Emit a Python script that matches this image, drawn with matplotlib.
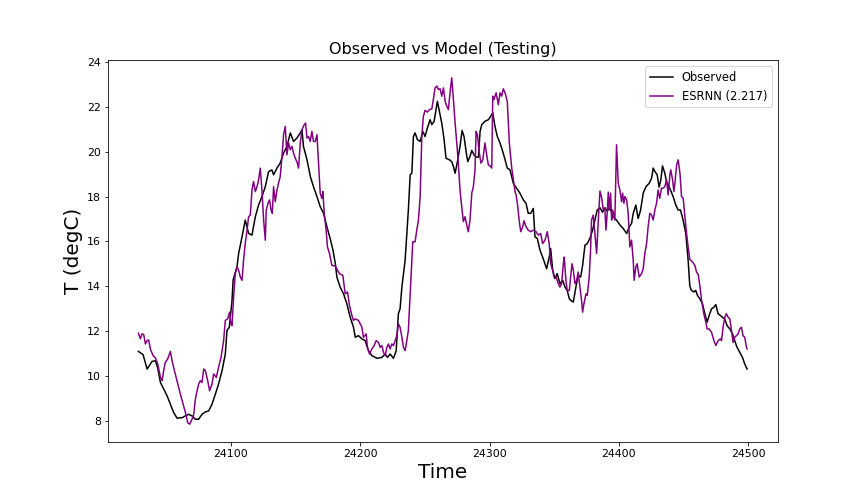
import matplotlib
matplotlib.use("Agg")
import matplotlib.pyplot as plt

# Observed temperature (test period)
obs_time = [
    24028.8, 24032.4, 24035.5, 24036.7, 24039.3, 24041.9, 24043.7, 24045.8, 24048.3, 24050.9,
    24053.5, 24056.0, 24058.6, 24062.5, 24065.0, 24067.6, 24070.2, 24072.8, 24075.3, 24077.9,
    24080.5, 24083.0, 24085.6, 24088.2, 24090.7, 24093.4, 24095.9, 24097.2, 24099.0, 24101.1,
    24101.9, 24104.9, 24106.2, 24108.8, 24111.3, 24113.9, 24116.5, 24119.1, 24121.6, 24124.2,
    24126.8, 24129.3, 24131.9, 24133.2, 24135.8, 24138.3, 24140.9, 24143.5, 24146.1, 24148.6,
    24151.2, 24153.8, 24155.1, 24156.3, 24159.0, 24161.6, 24164.0, 24166.7, 24169.2, 24171.8,
    24174.4, 24177.0, 24179.1, 24180.9, 24182.1, 24184.6, 24187.2, 24189.8, 24192.4, 24194.9,
    24196.3, 24198.8, 24201.4, 24203.9, 24206.5, 24209.1, 24213.0, 24216.8, 24219.4, 24221.2,
    24223.2, 24225.8, 24227.9, 24229.6, 24230.9, 24232.3, 24234.8, 24237.3, 24238.7, 24240.0,
    24241.2, 24242.5, 24244.3, 24246.4, 24248.5, 24250.2, 24252.0, 24254.1, 24255.4, 24257.2,
    24259.7, 24261.3, 24263.1, 24264.9, 24266.4, 24269.0, 24270.8, 24272.1, 24273.4, 24275.2,
    24277.2, 24278.8, 24280.3, 24281.9, 24283.2, 24284.9, 24286.3, 24288.0, 24289.6, 24291.4,
    24292.7, 24294.0, 24296.5, 24299.1, 24300.9, 24302.5, 24304.2, 24306.0, 24308.1, 24310.2,
    24312.0, 24313.7, 24315.8, 24318.4, 24321.0, 24323.5, 24326.1, 24328.2, 24329.9, 24331.8,
    24333.8, 24335.1, 24336.9, 24339.0, 24341.0, 24342.8, 24344.1, 24346.1, 24347.2, 24348.8,
    24350.5, 24352.3, 24354.4, 24356.5, 24358.3, 24360.0, 24361.6, 24362.9, 24364.7, 24366.7,
    24368.5, 24370.4, 24371.9, 24373.7, 24375.5, 24377.5, 24379.6, 24381.4, 24383.2, 24385.3,
    24387.3, 24389.1, 24390.9, 24393.0, 24395.5, 24398.1, 24400.7, 24403.2, 24405.9, 24407.9,
    24409.7, 24411.0, 24413.0, 24414.8, 24416.7, 24418.7, 24420.8, 24423.3, 24425.2, 24426.4,
    24427.7, 24429.5, 24431.0, 24432.3, 24433.6, 24435.4, 24436.7, 24438.0, 24439.8, 24441.8,
    24443.9, 24445.7, 24447.5, 24449.5, 24451.6, 24453.4, 24454.7, 24456.0, 24457.8, 24459.3,
    24460.6, 24462.4, 24464.5, 24466.3, 24468.1, 24469.6, 24471.5, 24473.3, 24474.8, 24476.5,
    24478.4, 24479.9, 24481.7, 24483.5, 24485.6, 24487.7, 24489.4, 24491.2, 24493.3, 24495.4,
    24497.1, 24498.9,
]
obs_temp = [
    11.09, 10.94, 10.30, 10.41, 10.64, 10.67, 10.35, 9.70, 9.41, 9.11,
    8.73, 8.36, 8.11, 8.13, 8.21, 8.28, 8.21, 8.06, 8.06, 8.28,
    8.39, 8.43, 8.73, 9.18, 9.63, 10.23, 10.97, 12.02, 12.17, 13.36,
    14.27, 14.86, 15.46, 16.20, 16.95, 16.35, 16.28, 17.10, 17.62, 18.00,
    18.44, 19.11, 19.19, 18.97, 19.27, 19.49, 19.94, 20.23, 20.84, 20.46,
    20.61, 20.84, 20.98, 20.23, 19.64, 18.89, 18.44, 18.00, 17.55, 17.25,
    16.65, 16.10, 15.60, 15.00, 14.40, 13.96, 13.66, 13.21, 12.61, 12.17,
    11.72, 11.79, 11.65, 11.57, 11.12, 10.90, 10.78, 10.82, 10.97, 10.82,
    10.97, 10.78, 11.12, 12.77, 12.99, 13.96, 15.16, 17.40, 18.97, 19.04,
    20.68, 20.84, 20.54, 20.46, 20.91, 20.68, 21.06, 21.43, 21.21, 21.36,
    22.25, 21.80, 21.28, 20.54, 19.71, 19.64, 19.56, 19.34, 19.04, 19.56,
    20.24, 20.95, 20.68, 20.01, 19.56, 19.79, 20.06, 19.86, 19.76, 19.76,
    20.91, 21.21, 21.36, 21.43, 21.58, 21.73, 21.13, 20.68, 20.39, 20.01,
    19.64, 19.27, 19.19, 18.59, 18.37, 18.15, 17.85, 17.70, 17.25, 17.25,
    17.47, 16.20, 16.13, 15.60, 15.30, 15.00, 14.78, 15.30, 15.68, 14.71,
    14.34, 14.56, 14.11, 14.26, 13.96, 13.81, 13.44, 13.36, 13.29, 13.96,
    14.48, 14.41, 14.93, 15.83, 15.90, 16.13, 16.50, 16.95, 17.40, 17.50,
    17.30, 17.50, 17.35, 17.50, 17.10, 16.95, 16.73, 16.58, 16.35, 16.65,
    16.80, 17.25, 17.62, 17.02, 17.40, 18.15, 18.44, 18.59, 18.82, 19.27,
    19.12, 18.97, 18.42, 18.74, 19.37, 19.04, 18.67, 18.52, 18.29, 18.00,
    17.62, 17.40, 17.40, 16.95, 16.35, 15.16, 14.00, 13.81, 13.74, 13.81,
    13.59, 13.44, 13.21, 12.77, 12.39, 12.69, 12.99, 13.06, 13.18, 12.77,
    12.69, 12.61, 12.54, 12.24, 12.09, 11.87, 11.57, 11.27, 11.05, 10.82,
    10.53, 10.30,
]

# ESRNN model prediction, RMSE in legend
esrnn_time = [
    24028.8, 24030.3, 24031.6, 24032.9, 24034.2, 24035.5, 24036.7, 24038.0, 24040.1, 24041.9,
    24043.7, 24045.8, 24047.1, 24048.3, 24049.6, 24051.4, 24053.5, 24054.8, 24056.6, 24058.6,
    24061.2, 24063.7, 24065.8, 24066.8, 24068.4, 24070.2, 24071.5, 24072.8, 24074.1, 24075.3,
    24076.6, 24077.9, 24079.2, 24080.5, 24082.3, 24083.8, 24085.6, 24086.9, 24089.0, 24090.7,
    24092.6, 24094.6, 24095.9, 24097.7, 24099.2, 24100.3, 24101.1, 24102.3, 24103.6, 24104.9,
    24106.2, 24107.5, 24108.8, 24110.0, 24111.3, 24112.7, 24113.9, 24115.2, 24116.5, 24117.7,
    24119.1, 24120.4, 24121.6, 24122.9, 24124.2, 24125.5, 24126.8, 24127.5, 24128.9, 24130.1,
    24131.2, 24132.2, 24133.2, 24134.5, 24135.8, 24137.0, 24138.3, 24139.7, 24140.9, 24142.2,
    24143.5, 24144.8, 24146.1, 24147.4, 24148.6, 24149.9, 24151.2, 24152.5, 24153.8, 24155.1,
    24156.9, 24157.9, 24159.0, 24160.2, 24161.5, 24162.8, 24164.0, 24165.4, 24166.7, 24167.9,
    24169.2, 24170.5, 24171.3, 24172.3, 24173.8, 24174.8, 24176.4, 24178.2, 24180.8, 24182.6,
    24184.1, 24186.7, 24188.5, 24190.3, 24191.8, 24193.7, 24194.9, 24196.2, 24198.8, 24200.1,
    24201.4, 24202.6, 24204.7, 24205.7, 24207.3, 24209.1, 24210.9, 24212.4, 24214.2, 24215.5,
    24216.8, 24218.1, 24219.4, 24220.7, 24221.9, 24223.2, 24224.5, 24225.8, 24227.1, 24228.4,
    24229.6, 24230.9, 24232.3, 24233.5, 24234.8, 24236.1, 24237.3, 24238.7, 24240.7, 24242.5,
    24243.8, 24245.1, 24246.4, 24247.7, 24248.9, 24250.2, 24252.0, 24253.6, 24255.4, 24256.6,
    24257.9, 24259.3, 24260.5, 24261.8, 24263.1, 24264.4, 24265.7, 24267.0, 24268.2, 24269.5,
    24270.8, 24272.1, 24273.4, 24274.7, 24275.9, 24277.2, 24278.5, 24279.8, 24281.1, 24282.4,
    24283.6, 24284.9, 24286.3, 24287.5, 24288.8, 24289.6, 24290.6, 24292.1, 24293.4, 24294.8,
    24296.5, 24297.8, 24299.1, 24300.4, 24301.7, 24302.5, 24303.5, 24305.1, 24306.8, 24308.1,
    24309.4, 24310.6, 24312.0, 24313.7, 24315.3, 24317.1, 24318.4, 24319.7, 24320.5, 24321.5,
    24323.0, 24324.1, 24325.6, 24326.6, 24328.2, 24329.9, 24331.8, 24333.8, 24335.9, 24337.7,
    24339.5, 24341.0, 24342.8, 24344.6, 24346.1, 24347.2, 24348.8, 24349.8, 24351.4, 24353.1,
    24354.4, 24355.7, 24357.0, 24357.7, 24359.0, 24360.0, 24361.6, 24362.7, 24363.7, 24364.7,
    24366.0, 24367.3, 24368.5, 24369.8, 24371.1, 24371.9, 24372.9, 24374.5, 24375.5, 24377.0,
    24378.1, 24378.8, 24380.1, 24381.4, 24382.7, 24383.9, 24385.3, 24386.6, 24387.8, 24389.1,
    24389.9, 24390.9, 24391.7, 24392.5, 24393.5, 24394.3, 24395.1, 24396.1, 24396.8, 24398.1,
    24399.4, 24400.7, 24402.0, 24402.8, 24403.8, 24404.6, 24405.9, 24407.1, 24408.4, 24409.7,
    24411.0, 24411.7, 24413.0, 24414.0, 24415.6, 24417.4, 24418.7, 24420.0, 24421.3, 24422.5,
    24423.8, 24425.2, 24426.4, 24427.7, 24429.0, 24430.2, 24431.5, 24432.8, 24434.0, 24435.4,
    24436.7, 24438.0, 24439.3, 24440.0, 24441.4, 24442.4, 24443.2, 24444.5, 24445.7, 24447.1,
    24448.3, 24449.6, 24450.9, 24452.2, 24453.4, 24454.7, 24456.0, 24457.3, 24458.6, 24459.9,
    24461.2, 24462.5, 24463.8, 24465.5, 24467.1, 24468.1, 24469.6, 24471.5, 24473.3, 24474.8,
    24476.6, 24478.4, 24479.2, 24480.4, 24481.7, 24483.0, 24484.3, 24485.6, 24486.9, 24488.1,
    24489.4, 24490.7, 24492.0, 24493.3, 24494.6, 24495.8, 24497.1, 24498.5, 24499.0,
]
esrnn_temp = [
    11.90, 11.65, 11.87, 11.84, 11.42, 11.57, 11.60, 11.20, 10.90, 10.80,
    10.53, 9.93, 9.78, 10.23, 10.60, 10.75, 11.09, 10.67, 10.23, 9.78,
    9.18, 8.66, 8.21, 7.91, 7.84, 8.06, 8.28, 8.96, 9.33, 9.63,
    9.78, 9.70, 10.30, 10.23, 9.78, 9.33, 9.63, 10.08, 9.93, 10.38,
    10.82, 11.57, 12.47, 12.54, 12.84, 12.30, 12.24, 13.51, 14.56, 14.86,
    14.71, 14.41, 14.26, 15.16, 15.90, 16.50, 17.10, 17.17, 18.29, 18.67,
    18.22, 18.44, 18.74, 19.27, 18.29, 16.95, 16.05, 17.40, 17.70, 17.85,
    17.40, 17.25, 18.44, 17.77, 18.29, 18.59, 18.89, 19.79, 20.76, 21.13,
    19.86, 20.39, 20.09, 20.24, 19.94, 19.71, 19.56, 19.27, 20.39, 20.98,
    21.21, 21.28, 20.61, 20.68, 20.46, 20.91, 20.46, 20.46, 20.76, 19.49,
    18.15, 17.92, 18.22, 17.25, 16.50, 15.75, 15.46, 14.93, 14.90, 14.71,
    14.56, 14.48, 13.66, 13.74, 13.14, 12.69, 12.47, 12.54, 12.47, 12.32,
    12.17, 11.72, 11.87, 11.27, 10.97, 11.20, 11.35, 11.57, 11.49, 11.27,
    11.35, 11.05, 10.90, 11.27, 11.42, 11.20, 11.42, 11.35, 11.57, 11.79,
    12.32, 12.17, 11.72, 11.27, 11.12, 11.57, 12.02, 13.66, 15.98, 15.98,
    16.50, 16.95, 18.00, 20.70, 21.58, 21.85, 21.77, 21.88, 21.91, 22.33,
    22.85, 22.93, 22.78, 22.81, 22.48, 22.85, 22.25, 22.03, 21.88, 22.63,
    23.30, 22.33, 21.28, 20.39, 19.49, 18.29, 17.55, 16.88, 17.10, 16.73,
    16.43, 16.95, 18.15, 18.44, 19.19, 20.91, 20.76, 19.94, 19.49, 19.64,
    20.39, 19.86, 19.41, 19.37, 19.27, 22.48, 22.33, 22.63, 22.10, 22.63,
    22.48, 22.81, 22.63, 22.25, 20.39, 19.30, 18.75, 18.22, 18.07, 17.70,
    16.88, 16.43, 16.65, 16.92, 16.65, 16.50, 16.43, 16.50, 16.43, 16.28,
    16.35, 15.90, 16.05, 16.43, 15.90, 15.00, 14.71, 14.41, 14.41, 14.11,
    13.96, 14.11, 15.00, 15.30, 14.26, 13.81, 13.81, 14.41, 15.00, 14.71,
    14.11, 14.26, 14.63, 13.96, 13.36, 12.84, 13.21, 13.66, 13.59, 14.41,
    15.68, 16.95, 17.17, 16.35, 15.46, 16.80, 18.25, 17.95, 17.43, 17.50,
    16.50, 17.25, 18.20, 17.40, 18.15, 16.95, 17.40, 17.17, 16.95, 20.31,
    18.59, 18.29, 17.77, 18.15, 17.70, 18.00, 17.85, 17.25, 15.75, 16.05,
    15.16, 14.26, 14.86, 15.00, 14.41, 14.56, 14.78, 15.46, 15.90, 16.65,
    17.25, 17.17, 16.95, 17.40, 17.70, 18.29, 17.92, 18.37, 18.37, 18.44,
    18.74, 18.07, 18.97, 19.19, 18.74, 18.22, 18.59, 19.41, 19.64, 19.04,
    18.00, 17.92, 17.10, 16.35, 15.75, 15.20, 15.12, 15.04, 14.93, 14.63,
    14.52, 14.00, 13.36, 12.77, 12.39, 12.09, 12.09, 11.94, 11.57, 11.35,
    11.57, 11.65, 11.57, 12.17, 12.61, 12.77, 12.61, 12.54, 12.02, 11.49,
    11.72, 11.79, 11.87, 12.09, 12.17, 11.79, 11.72, 11.27, 11.20,
]

fig, ax = plt.subplots(figsize=(12, 7), dpi=72)
fig.subplots_adjust(left=0.125, right=0.9, top=0.88, bottom=0.124)

ax.plot(obs_time, obs_temp, color="black", linewidth=1.5, label="Observed")
ax.plot(esrnn_time, esrnn_temp, color="purple", linewidth=1.5, label="ESRNN (2.217)")

ax.set_title("Observed vs Model (Testing)", fontsize=16)
ax.set_xlabel("Time", fontsize=20)
ax.set_ylabel("T (degC)", fontsize=20)
ax.tick_params(labelsize=11)
ax.legend(loc="upper right", fontsize=11.5)

fig.savefig("out.png", dpi=72)
